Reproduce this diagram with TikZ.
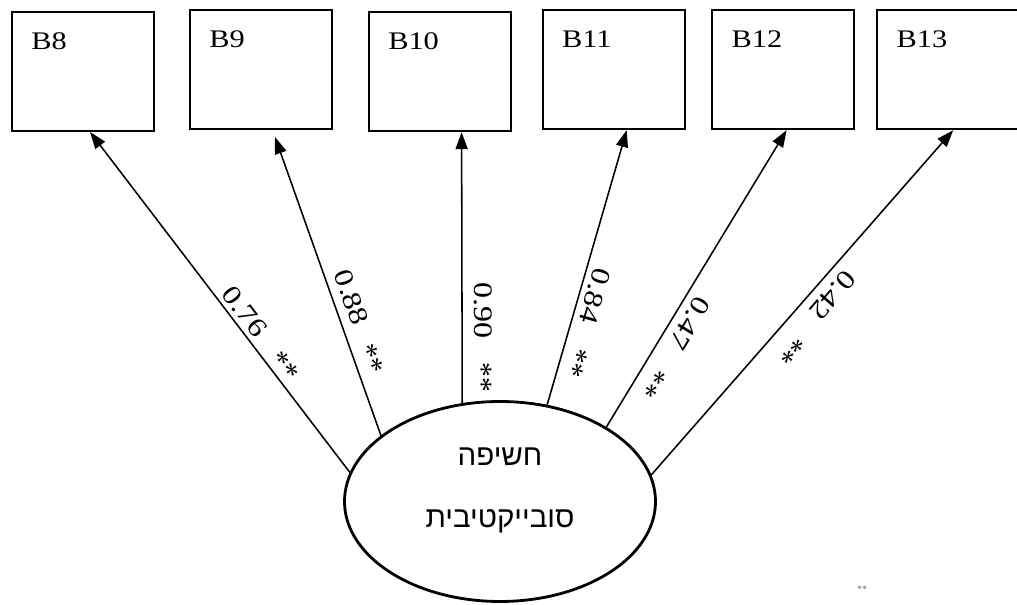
\documentclass[tikz,border=0pt]{standalone}
\usepackage{fontspec}
\setmainfont{Liberation Serif}
\newfontfamily\widefont{Liberation Serif}[FakeStretch=1.2]
\newfontfamily\hebfont[Script=Hebrew]{Liberation Sans}
\TeXXeTstate=1
\usetikzlibrary{arrows.meta, shapes.geometric}

\begin{document}
\begin{tikzpicture}[
            >={Triangle[length=12pt, width=8.5pt]},
            line cap=round,
            item/.style={draw, rectangle, line width=1.4pt, minimum width=3.55cm, minimum height=2.975cm, inner sep=0pt},
            item name/.style={anchor=base west, inner sep=0pt, font=\widefont\fontsize{18}{21}\selectfont},
            factor/.style={draw, ellipse, line width=2pt, minimum width=7.775cm, minimum height=5cm, inner sep=0pt},
            factor name/.style={inner sep=0pt, font=\hebfont\fontsize{21}{25}\selectfont},
            loading/.style={<-, line width=1.1pt},
            coef/.style={sloped, allow upside down, inner sep=1pt, font=\widefont\fontsize{19}{22}\selectfont},
            stars/.style={sloped, allow upside down, inner sep=1pt, font=\fontsize{21}{24}\selectfont},
        ]
        \useasboundingbox (0,0) rectangle (25.425,15.125);

        % observed items
        \node[item] (b8) at (2.075,13.3375) {};
        \node[item] (b9) at (6.525,13.3825) {};
        \node[item] (b10) at (11.0,13.3325) {};
        \node[item] (b11) at (15.3425,13.3825) {};
        \node[item] (b12) at (19.585,13.3825) {};
        \node[item] (b13) at (23.71,13.3825) {};

        \node[item name] (n8) at ([shift={(0.5,-0.95)}]b8.north west) {B8};
        \node[item name] (n9) at ([shift={(0.5,-0.95)}]b9.north west) {B9};
        \node[item name] (n10) at ([shift={(0.5,-0.95)}]b10.north west) {B10};
        \node[item name] (n11) at ([shift={(0.5,-0.95)}]b11.north west) {B11};
        \node[item name] (n12) at ([shift={(0.5,-0.95)}]b12.north west) {B12};
        \node[item name] (n13) at ([shift={(0.5,-0.95)}]b13.north west) {B13};

        % latent factor
        \node[factor] (lat) at (12.5,2.5875) {};
        \node[factor name] (h1) at (12.5,3.7) {\beginR חשיפה\endR};
        \node[factor name] (h2) at (12.5,2.1) {\beginR סובייקטיבית\endR};

        \coordinate (t8) at ([xshift=0.175cm]b8.south);
        \coordinate (t9) at ([shift={(0.35,-0.17)}]b9.south);
        \coordinate (t10) at ([xshift=0.54cm]b10.south);
        \coordinate (t11) at ([xshift=0.325cm]b11.south);
        \coordinate (t12) at ([xshift=0.08cm]b12.south);
        \coordinate (t13) at ([xshift=0.12cm]b13.south);

        % loadings
        \draw[loading] (t8) -- (lat.169.5)
            node[coef, pos=0.553, above=2pt] (c8) {0.76}
            node[stars, pos=0.71, above=0pt] (s8) {**};
        \draw[loading] (t9) -- (lat.151.5)
            node[coef, pos=0.558, above=5pt] (c9) {0.88}
            node[stars, pos=0.763, above=2.8pt] (s9) {**};
        \draw[loading] (t10) -- (lat.111.6)
            node[coef, pos=0.66, above=6.8pt] (c10) {0.90}
            node[stars, pos=0.904, above=6pt] (s10) {**};
        \draw[loading] (t11) -- (lat.64.4)
            node[coef, pos=0.589, above=3pt] (c11) {0.84}
            node[stars, pos=0.83, above=2.5pt] (s11) {**};
        \draw[loading] (t12) -- (lat.35)
            node[coef, pos=0.62, above=4.4pt] (c12) {0.47}
            node[stars, pos=0.822, above=2.6pt] (s12) {**};
        \draw[loading] (t13) -- (lat.10)
            node[coef, pos=0.444, above=4.7pt] (c13) {0.42}
            node[stars, pos=0.594, above=6.3pt] (s13) {**};

        \node[font=\fontsize{7}{8}\selectfont, text=black!60] (note) at (21.55,0.4) {**};
\end{tikzpicture}
\end{document}
